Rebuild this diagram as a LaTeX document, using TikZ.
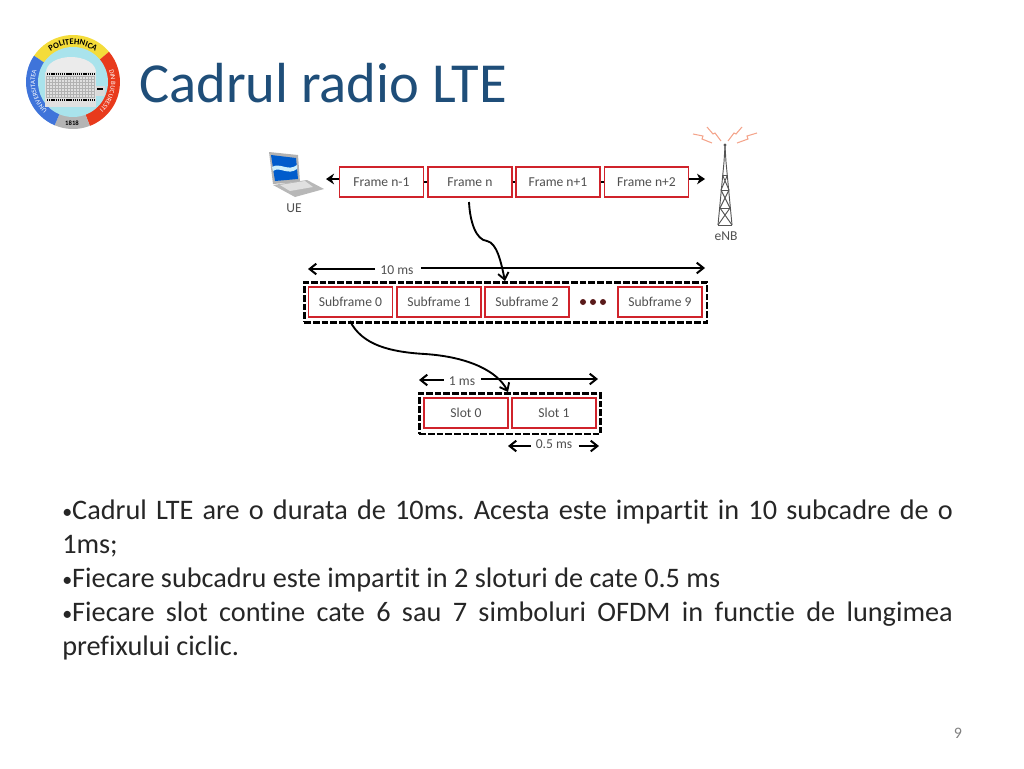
\documentclass[tikz,border=0pt]{standalone}
\usepackage{fontspec}
\setmainfont[Ligatures=NoCommon]{Carlito}
\usetikzlibrary{arrows.meta, decorations.text}
\definecolor{titleblue}{HTML}{1F4E79}
\definecolor{labelgrey}{HTML}{505050}
\definecolor{boxred}{HTML}{D0232B}
\definecolor{dotred}{HTML}{5A1A1A}
\definecolor{sparksalmon}{HTML}{F4A58C}
\definecolor{towergrey}{HTML}{555555}
\definecolor{logoyellow}{HTML}{F4DC3A}
\definecolor{logored}{HTML}{E83A1C}
\definecolor{logogrey}{HTML}{B4B4B4}
\definecolor{logoblue}{HTML}{3F74DA}
\definecolor{logocyan}{HTML}{A9E3EC}
\newcommand{\smallbul}{\raisebox{1.2pt}{\fontsize{15}{15}\selectfont\textbullet}}
\tikzset{
  cellbox/.style={draw=boxred, line width=1.4pt, fill=white, inner sep=0pt, minimum height=22.5pt, text=labelgrey, font=\fontsize{10.2}{12}\selectfont},
  framecell/.style={cellbox, minimum width=63pt},
  groupbox/.style={draw=black, line width=2pt, dash pattern=on 5pt off 1.5pt, inner sep=0pt},
  lab/.style={text=labelgrey, font=\fontsize{10.2}{12}\selectfont, inner sep=0pt},
  timearrow/.style={-{Straight Barb[length=5pt,width=8pt]}, line width=1.5pt, black},
  linkarrow/.style={-{Stealth[length=6pt,width=8pt]}, line width=1.6pt, black},
  curvearrow/.style={-{Straight Barb[length=5pt,width=8pt]}, line width=1.4pt, black},
  spark/.style={sparksalmon, line width=0.8pt},
  tower/.style={towergrey, line width=0.7pt}
}
\begin{document}
\begin{tikzpicture}[x=0.75pt,y=-0.75pt]
\useasboundingbox (0,0) rectangle (1024,768);
%the logo
\begin{scope}[shift={(73,82)},y=0.75pt]
\fill [logoyellow] (0,0) -- (40:47) arc (40:146:47) -- cycle;
\fill [logored] (0,0) -- (-69:47) arc (-69:40:47) -- cycle;
\fill [logogrey] (0,0) -- (-113:47) arc (-113:-69:47) -- cycle;
\fill [logoblue] (0,0) -- (146:47) arc (146:247:47) -- cycle;
\fill [logocyan] (0,0) circle (35);
\path [decorate, decoration={text along path, text align=center, text={|\fontsize{6.4}{7}\selectfont\bfseries|POLITEHNICA}}] (150:37.5) arc (150:30:37.5);
\path [decorate, decoration={text along path, text align=center, text={|\fontsize{5}{6}\selectfont\color{white}|UNIVERSITATEA}}] (240:38) arc (240:150:38);
\path [decorate, decoration={text along path, text align=center, text={|\fontsize{5}{6}\selectfont\color{white}|DIN BUCURESTI}}] (36:38) arc (36:-64:38);
\node [font=\fontsize{5}{6}\selectfont\bfseries, inner sep=0pt] (logoyear) at (-1,-41) {1818};
%the building
\fill [white!88!black] (-28,-25) rectangle (23,10);
\fill [white!92!black] (-27,10) arc (180:0:25 and 15) -- cycle;
\draw [white!70!black, line width=0.25pt, step=3] (-27,-15) grid (22,6);
\draw [black, line width=1pt, dash pattern=on 1pt off 0.6pt] (-26,8) -- (22,8);
\draw [black, line width=1.4pt, dash pattern=on 1pt off 0.6pt] (-26,-18) -- (22,-18);
\fill [white!85!black] (23,-14) rectangle (32,-4);
\fill [black] (24,-8) rectangle (30,-6);
\end{scope}
%the title
\node [anchor=base west, text=titleblue, font=\fontsize{42.4}{48}\selectfont, inner sep=0pt] (title) at (139,102) {Cadrul radio LTE};
%the laptop
\fill [white!70!black] (269,152) -- (298,155) -- (300,182) -- (273,184) -- cycle;
\fill [blue!55!cyan!80!black] (271,155) -- (296,158) -- (298,179) -- (275,181) -- cycle;
\fill [white!80!cyan] (272,167) .. controls (280,162) and (288,172) .. (297,165) -- (297,169) .. controls (288,176) and (280,166) .. (273,171) -- cycle;
\fill [white!72!black] (273,185) -- (307,180) -- (324,189) -- (295,197) -- cycle;
\fill [white!88!black] (280,185) -- (305,181) -- (313,187) -- (290,191) -- cycle;
\node [lab] (ue) at (294,208) {UE};
%the frames
\node [framecell, anchor=north west] (frame0) at (338.5,166) {Frame n-1};
\node [framecell, anchor=north west] (frame1) at (427,166) {Frame n};
\node [framecell, anchor=north west] (frame2) at (515,166) {Frame n+1};
\node [framecell, anchor=north west] (frame3) at (603.5,166) {Frame n+2};
\draw [line width=1.2pt] (frame0) -- (frame1);
\draw [line width=1.2pt] (frame1) -- (frame2);
\draw [line width=1.2pt] (frame2) -- (frame3);
\coordinate (ueend) at (326,179);
\coordinate (enbend) at (705,179);
\draw [linkarrow] (frame0.west |- ueend) -- (ueend);
\draw [linkarrow] (frame3.east |- enbend) -- (enbend);
%the tower
\draw [tower] (725,146) -- (724,162) -- (718,225);
\draw [tower] (725,146) -- (726,162) -- (732,225);
\draw [tower] (718,225) -- (732,225);
\draw [tower] (722.5,175) -- (727.5,175) (721,190) -- (729,190) (720,208) -- (730,208);
\draw [tower] (727.5,175) -- (721,190) (722.5,175) -- (729,190) -- (720,208) (721,190) -- (730,208) -- (718,225) (720,208) -- (732,225);
\fill [towergrey] (725,145) circle (1.6);
\draw [spark] (693,134) -- (703,136) -- (702,139) -- (712,143);
\draw [spark] (707,127) -- (713,134) -- (715,133) -- (721,141);
\draw [spark] (742,127) -- (736,134) -- (734,133) -- (728,141);
\draw [spark] (757,133) -- (747,136) -- (748,139) -- (737,143);
\node [lab] (enb) at (726,236) {eNB};
%the subframes
\node [groupbox, anchor=north west, minimum width=302pt, minimum height=30pt] (subgroup) at (303,281) {};
\node [framecell, anchor=north west] (sub0) at (307.5,286) {Subframe 0};
\node [framecell, anchor=north west] (sub1) at (396,286) {Subframe 1};
\node [framecell, anchor=north west] (sub2) at (484,286) {Subframe 2};
\node [framecell, anchor=north west] (sub9) at (617,286) {Subframe 9};
\fill [dotred] (583,302) circle (3);
\fill [dotred] (593,302) circle (3);
\fill [dotred] (603,302) circle (3);
\node [lab] (tenms) at (397,270) {10 ms};
\coordinate (tenleft) at (308,269);
\coordinate (tenright) at (705,268);
\draw [timearrow] (tenms.west) ++(-5,-1) -- (tenleft);
\draw [timearrow] (tenms.east) ++(7,-2) -- (tenright);
%the slots
\node [groupbox, anchor=north west, minimum width=136pt, minimum height=30.5pt] (slotgroup) at (418,392) {};
\node [framecell, anchor=north west] (slot0) at (423,397) {Slot 0};
\node [framecell, anchor=north west] (slot1) at (511,397) {Slot 1};
\node [lab] (onems) at (462,381) {1 ms};
\coordinate (oneleft) at (419,380);
\coordinate (oneright) at (598,379);
\draw [timearrow] (onems.west) ++(-5,-1) -- (oneleft);
\draw [timearrow] (onems.east) ++(6,-2) -- (oneright);
\node [lab] (halfms) at (554,444) {0.5 ms};
\coordinate (halfleft) at (508,446);
\coordinate (halfright) at (599,446);
\draw [timearrow] (halfms.west) ++(-5,2) -- (halfleft);
\draw [timearrow] (halfms.east) ++(6,2) -- (halfright);
%the zoom curves
\coordinate (framedown) at (469,202);
\coordinate (subtop) at (505,281);
\coordinate (subdown) at (350,321);
\coordinate (slottop) at (508,392);
\draw [curvearrow] (framedown) .. controls (470,222) and (476,240) .. (487,241) .. controls (497,243) and (501,262) .. (subtop);
\draw [curvearrow] (subdown) .. controls (362,345) and (390,352) .. (425,354) .. controls (470,357) and (498,372) .. (slottop);
%the text
\node [anchor=north west, text width=668pt, align=justify, inner sep=0pt, text=black!85, font=\fontsize{21.2}{25.5}\selectfont] (bodytext) at (62,500) {%
\frenchspacing
\smallbul Cadrul LTE are o durata de 10ms. Acesta este impartit in 10 subcadre de o\linebreak 1ms;\par
\smallbul Fiecare subcadru este impartit in 2 sloturi de cate 0.5 ms\par
\smallbul Fiecare slot contine cate 6 sau 7 simboluri OFDM in functie de lungimea\linebreak prefixului ciclic.};
\node [text=black!50, font=\fontsize{12}{14}\selectfont, inner sep=0pt] (pagenum) at (958,733) {9};
\end{tikzpicture}
\end{document}
